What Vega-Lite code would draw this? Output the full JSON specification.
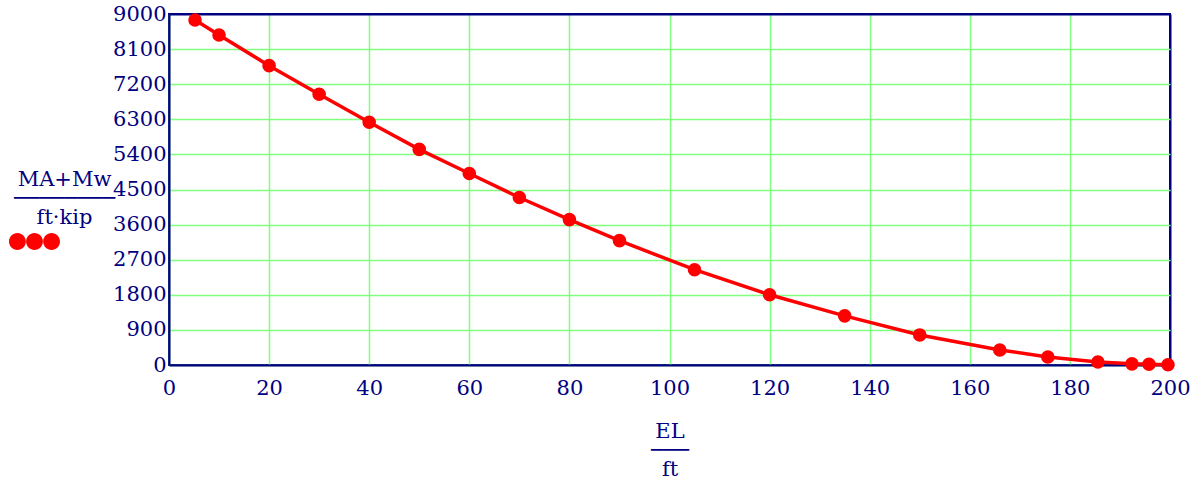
{
  "$schema": "https://vega.github.io/schema/vega-lite/v6.json",
  "width": 1001,
  "height": 351,
  "autosize": "none",
  "padding": {"left": 169, "top": 14, "right": 33, "bottom": 116},
  "background": "white",
  "config": {
    "font": "DejaVu Serif",
    "view": {"stroke": "#000080", "strokeWidth": 2},
    "axis": {
      "domainColor": "#000080",
      "domainWidth": 2,
      "ticks": false,
      "labelFont": "DejaVu Serif",
      "labelFontSize": 21,
      "labelColor": "#000080",
      "titleFont": "DejaVu Serif",
      "titleFontSize": 21,
      "titleFontWeight": "normal",
      "titleColor": "#000080",
      "gridOpacity": 1
    }
  },
  "data": {
    "values": [
      {"EL": 5.2, "M": 8846, "s": ""},
      {"EL": 10, "M": 8462, "s": ""},
      {"EL": 20, "M": 7675, "s": ""},
      {"EL": 30, "M": 6943, "s": ""},
      {"EL": 40, "M": 6223, "s": ""},
      {"EL": 50, "M": 5528, "s": ""},
      {"EL": 60, "M": 4911, "s": ""},
      {"EL": 70, "M": 4294, "s": ""},
      {"EL": 80, "M": 3728, "s": ""},
      {"EL": 90, "M": 3188, "s": ""},
      {"EL": 105, "M": 2443, "s": ""},
      {"EL": 120, "M": 1800, "s": ""},
      {"EL": 135, "M": 1260, "s": ""},
      {"EL": 150, "M": 771, "s": ""},
      {"EL": 166, "M": 386, "s": ""},
      {"EL": 175.6, "M": 206, "s": ""},
      {"EL": 185.6, "M": 77, "s": ""},
      {"EL": 192.4, "M": 30, "s": ""},
      {"EL": 195.8, "M": 20, "s": ""},
      {"EL": 199.6, "M": 5, "s": ""}
    ]
  },
  "encoding": {
    "x": {
      "field": "EL",
      "type": "quantitative",
      "scale": {"domain": [0, 200], "nice": false, "zero": false},
      "axis": {
        "values": [0, 20, 40, 60, 80, 100, 120, 140, 160, 180, 200],
        "format": "d",
        "labelPadding": 12,
        "title": ["EL", "───", "ft"],
        "titleLineHeight": 19,
        "titlePadding": 22,
        "labelFlush": false,
        "labelOverlap": false,
        "gridColor": {"condition": {"test": "datum.value >= 200", "value": "#000080"}, "value": "#80ff80"},
        "gridWidth": {"condition": {"test": "datum.value >= 200", "value": 2}, "value": 1.5}
      }
    },
    "y": {
      "field": "M",
      "type": "quantitative",
      "scale": {"domain": [0, 9000], "nice": false},
      "axis": {
        "values": [0, 900, 1800, 2700, 3600, 4500, 5400, 6300, 7200, 8100, 9000],
        "format": "d",
        "labelPadding": 3,
        "labelFlush": false,
        "labelOverlap": false,
        "title": ["MA+Mw", "────────", "ft·kip"],
        "titleAngle": 0,
        "titleAlign": "center",
        "titleBaseline": "top",
        "titleX": -105,
        "titleY": 154,
        "titleLineHeight": 19,
        "gridColor": {"condition": {"test": "datum.value >= 9000", "value": "#000080"}, "value": "#80ff80"},
        "gridWidth": {"condition": {"test": "datum.value >= 9000", "value": 2}, "value": 1.5}
      }
    }
  },
  "layer": [
    {
      "mark": {"type": "line", "color": "#ff0000", "strokeWidth": 3.5}
    },
    {
      "mark": {"type": "point", "filled": true, "opacity": 1, "size": 185},
      "encoding": {
        "color": {
          "field": "s",
          "type": "nominal",
          "scale": {"range": ["#ff0000"]},
          "legend": {
            "orient": "none",
            "legendX": -160,
            "legendY": 202,
            "title": null,
            "labelFontSize": 1,
            "symbolType": "M-1,0 A0.33,0.33 0 1,1 -0.34,0 A0.33,0.33 0 1,1 -1,0 Z M-0.33,0 A0.33,0.33 0 1,1 0.33,0 A0.33,0.33 0 1,1 -0.33,0 Z M0.34,0 A0.33,0.33 0 1,1 1,0 A0.33,0.33 0 1,1 0.34,0 Z",
            "symbolSize": 2601,
            "symbolFillColor": "#ff0000",
            "symbolStrokeWidth": 0,
            "symbolOpacity": 1
          }
        }
      }
    }
  ]
}
